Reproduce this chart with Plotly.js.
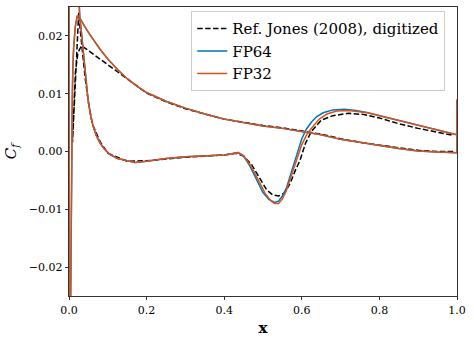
<!DOCTYPE html>
<html>
<head>
<meta charset="utf-8">
<script src="https://cdn.plot.ly/plotly-3.0.1.min.js"></script>
<style>
  html, body { margin: 0; padding: 0; background: white; }
  #plot { width: 474px; height: 342px; }
</style>
</head>
<body>
<div id="plot"></div>
<script>
// pressure side (trailing edge -> leading edge), shared by FP64 and FP32
var pressureX = [1.0, 1.0, 0.95, 0.9, 0.85, 0.8, 0.75, 0.7, 0.65, 0.6, 0.55, 0.5, 0.45, 0.4, 0.35, 0.3, 0.25, 0.2, 0.175, 0.15, 0.125, 0.1, 0.08, 0.065, 0.05, 0.04, 0.03, 0.025, 0.021, 0.016, 0.012, 0.01, 0.0085, 0.0075, 0.006, 0.005, 0.003, 0.0]
var pressureCf = [0.009, -0.0002, -0.0001, 0.0001, 0.0005, 0.0010, 0.0015, 0.0021, 0.0029, 0.0035, 0.0040, 0.0044, 0.0050, 0.0056, 0.0065, 0.0075, 0.0087, 0.0102, 0.0113, 0.0126, 0.0142, 0.0160, 0.0177, 0.0191, 0.0206, 0.0217, 0.0228, 0.0234, 0.0234, 0.0215, 0.0180, 0.0148, 0.0090, 0.0, -0.012, -0.030, -0.050, -0.060]

// suction side, leading edge up to the separation bubble (shared)
var suctionX = [0.0, 0.005, 0.012, 0.018, 0.022, 0.025, 0.028, 0.032, 0.036, 0.040, 0.045, 0.049, 0.055, 0.062, 0.07, 0.079, 0.09, 0.105, 0.125, 0.148, 0.17, 0.2, 0.25, 0.3, 0.35, 0.4, 0.42, 0.436]
var suctionCf = [0.060, 0.055, 0.045, 0.035, 0.029, 0.0252, 0.0230, 0.0206, 0.0177, 0.0148, 0.0115, 0.0090, 0.0065, 0.0044, 0.0028, 0.0016, 0.0005, -0.0005, -0.0012, -0.0016, -0.0019, -0.0017, -0.0012, -0.0009, -0.0008, -0.0006, -0.0004, -0.0002]

// separation bubble / reattachment
var bubbleX64 = [0.45, 0.466, 0.483, 0.5, 0.515, 0.53, 0.54, 0.55, 0.561, 0.575, 0.586, 0.6, 0.612, 0.625, 0.638, 0.655, 0.68, 0.71, 0.74, 0.77]
var bubbleCf64 = [-0.0008, -0.0025, -0.0048, -0.0071, -0.0083, -0.0088, -0.0086, -0.0077, -0.0062, -0.0030, -0.0008, 0.0022, 0.0039, 0.0051, 0.0060, 0.0067, 0.0072, 0.0073, 0.0071, 0.0067]
var bubbleX32 = [0.45, 0.47, 0.49, 0.505, 0.52, 0.53, 0.54, 0.55, 0.56, 0.57, 0.585, 0.6, 0.615, 0.63, 0.645, 0.665, 0.69, 0.72, 0.75, 0.77]
var bubbleCf32 = [-0.0007, -0.0026, -0.0052, -0.0072, -0.0085, -0.0090, -0.0090, -0.0082, -0.0068, -0.0048, -0.0018, 0.0012, 0.0032, 0.0045, 0.0056, 0.0065, 0.0070, 0.0071, 0.0069, 0.0067]

// turbulent part to the trailing edge (shared)
var tailX = [0.8, 0.85, 0.9, 0.95, 0.98, 1.0]
var tailCf = [0.0062, 0.0054, 0.0046, 0.0038, 0.0032, 0.0029]

var refPressureX = [0.99, 0.95, 0.9, 0.85, 0.8, 0.75, 0.7, 0.65, 0.6, 0.55, 0.5, 0.45, 0.4, 0.35, 0.3, 0.25, 0.2, 0.182, 0.16, 0.131, 0.1, 0.079, 0.06, 0.045, 0.032, 0.023, 0.0165, 0.012, 0.009]
var refPressureCf = [0.0, 0.0, 0.0002, 0.0006, 0.0011, 0.0016, 0.0022, 0.0030, 0.0036, 0.0041, 0.0045, 0.0050, 0.0056, 0.0065, 0.0074, 0.0086, 0.0101, 0.0110, 0.0121, 0.0134, 0.0150, 0.0160, 0.0170, 0.0177, 0.0183, 0.0171, 0.0137, 0.0073, 0.0016]
var refSuctionX = [0.015, 0.021, 0.025, 0.029, 0.035, 0.042, 0.05, 0.06, 0.08, 0.1, 0.15, 0.2, 0.3, 0.4, 0.43, 0.45, 0.47, 0.49, 0.51, 0.525, 0.54, 0.555, 0.57, 0.585, 0.595, 0.61, 0.625, 0.65, 0.68, 0.72, 0.76, 0.8, 0.85, 0.9, 0.95, 0.99]
var refSuctionCf = [0.012, 0.021, 0.0240, 0.021, 0.0165, 0.0125, 0.0085, 0.0048, 0.0017, -0.0003, -0.0017, -0.0016, -0.0010, -0.0006, -0.0003, -0.0008, -0.0022, -0.0045, -0.0067, -0.0075, -0.0077, -0.0072, -0.0055, -0.0030, -0.0016, 0.0015, 0.0035, 0.0054, 0.0062, 0.0066, 0.0064, 0.0058, 0.0048, 0.0040, 0.0033, 0.0028]

var xTicks = [0, 0.2, 0.4, 0.6, 0.8, 1.0]
var yTicks = [-0.02, -0.01, 0, 0.01, 0.02]

var font = '"DejaVu Serif", "Liberation Serif", serif'

var trace_ref = {
  x: refPressureX.concat(refSuctionX),
  y: refPressureCf.concat(refSuctionCf),
  mode: 'lines',
  name: 'Ref. Jones (2008), digitized',
  legendgroup: 'ref',
  line: { color: 'black', width: 1.5, dash: '5.5px,2.4px' }
}

var trace_fp64 = {
  x: pressureX.concat(suctionX, bubbleX64, tailX),
  y: pressureCf.concat(suctionCf, bubbleCf64, tailCf),
  mode: 'lines',
  name: 'FP64',
  legendgroup: 'fp64',
  line: { color: '#0072BD', width: 1.5 }
}

var trace_fp32 = {
  x: pressureX.concat(suctionX, bubbleX32, tailX),
  y: pressureCf.concat(suctionCf, bubbleCf32, tailCf),
  mode: 'lines',
  name: 'FP32',
  legendgroup: 'fp32',
  line: { color: '#D95319', width: 1.5 }
}

var axisStyle = {
  showgrid: false,
  zeroline: false,
  showline: true,
  mirror: true,
  linecolor: 'black',
  linewidth: 0.8,
  ticks: 'outside',
  ticklen: 3.5,
  tickwidth: 0.8,
  tickcolor: 'black',
  tickfont: { family: font, size: 11, color: 'black' }
}

var layout = {
  width: 474,
  height: 342,
  margin: { l: 69, r: 17, t: 7, b: 46 },
  paper_bgcolor: 'white',
  plot_bgcolor: 'white',
  font: { family: font, color: 'black' },
  showlegend: true,
  legend: {
    x: 0.315, y: 0.985, xanchor: 'left', yanchor: 'top',
    bgcolor: 'rgba(255,255,255,0.8)',
    bordercolor: '#cccccc', borderwidth: 1,
    font: { family: font, size: 15, color: 'black' },
    itemwidth: 30,
    tracegroupgap: 0
  },
  xaxis: Object.assign({}, axisStyle, {
    range: [0, 1],
    tickvals: xTicks,
    tickformat: '.1f',
    title: { text: '<b>x</b>', font: { family: font, size: 15 }, standoff: 6 }
  }),
  yaxis: Object.assign({}, axisStyle, {
    range: [-0.025, 0.025],
    tickvals: yTicks,
    tickformat: '.2f',
    title: { text: '<i>C</i><sub><i>f</i></sub>', font: { family: font, size: 15 }, standoff: 8 }
  })
}

Plotly.newPlot('plot', [trace_ref, trace_fp64, trace_fp32], layout, { staticPlot: true })
</script>
</body>
</html>
